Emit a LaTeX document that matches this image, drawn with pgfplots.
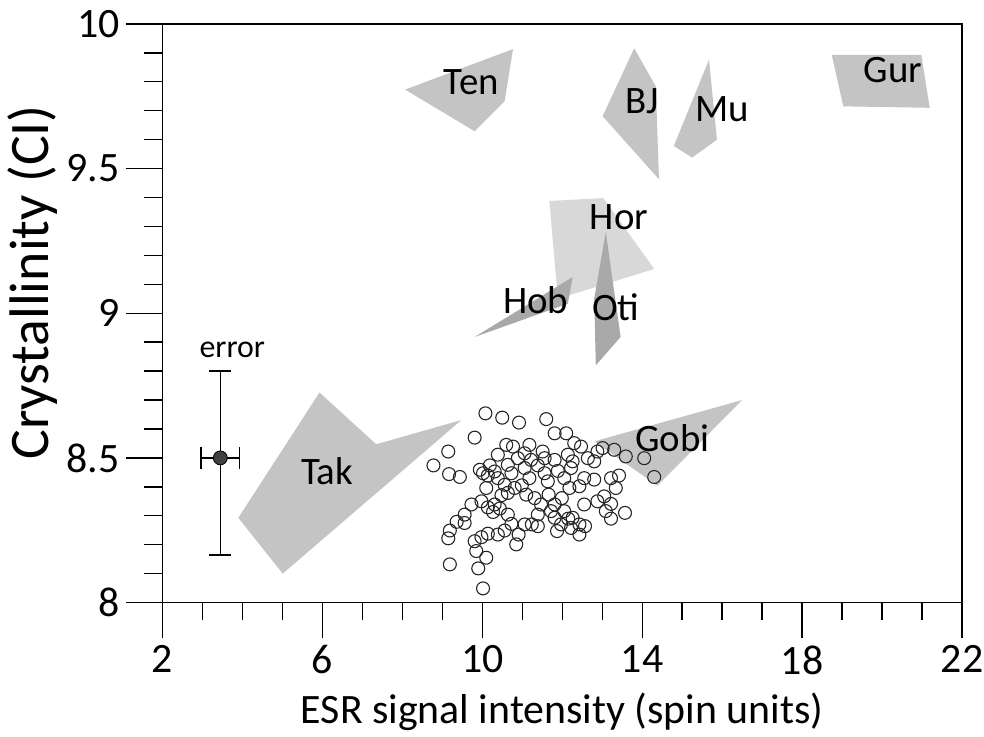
\documentclass[border=0pt]{standalone}
\usepackage{pgfplots}
\pgfplotsset{compat=1.18}
\usepackage{fontspec}
\setmainfont{Carlito}
\definecolor{midgray}{HTML}{C4C4C4}
\definecolor{lightgray2}{HTML}{D8D8D8}
\definecolor{darkgray2}{HTML}{A9A9A9}
\begin{document}
\begin{tikzpicture}
\begin{axis}[
  scale only axis, width=401.5pt, height=290.5pt,
  xmin=2, xmax=22, ymin=8, ymax=10,
  xtick={2,6,10,14,18,22}, minor x tick num=3,
  ytick={8,8.5,9,9.5,10}, minor y tick num=4,
  tick align=outside, tick pos=left,
  major tick length=18pt, minor tick length=9pt,
  axis line style={line width=0.7pt},
  every tick/.style={black, line width=0.7pt},
  /pgf/number format/assume math mode=true,
  ticklabel style={font=\fontsize{21}{24}\selectfont},
  xlabel={ESR signal intensity (spin units)},
  ylabel={Crystallinity (CI)},
  xlabel style={font=\fontsize{21}{24}\selectfont, at={(axis description cs:0.5,0)}, anchor=center, yshift=-55pt},
  ylabel style={font=\fontsize{28}{32}\selectfont, at={(axis description cs:0,0.5)}, anchor=center, rotate=0, xshift=15.5pt, yshift=65pt},
  clip=false,
]
% polygons
\addplot[fill=midgray, draw=none] coordinates {(8.07,9.773) (10.77,9.913) (10.56,9.733) (9.81,9.629)} -- cycle;
\addplot[fill=midgray, draw=none] coordinates {(13.80,9.916) (14.34,9.784) (14.42,9.463) (13.01,9.681)} -- cycle;
\addplot[fill=midgray, draw=none] coordinates {(15.67,9.876) (15.87,9.600) (15.25,9.538) (14.79,9.578)} -- cycle;
\addplot[fill=midgray, draw=none] coordinates {(18.74,9.893) (20.98,9.893) (21.19,9.710) (19.03,9.715)} -- cycle;
\addplot[fill=lightgray2, draw=none] coordinates {(11.68,9.388) (13.03,9.398) (14.30,9.153) (11.89,9.050)} -- cycle;
\addplot[fill=darkgray2, draw=none] coordinates {(9.81,8.918) (12.26,9.125) (12.14,9.033)} -- cycle;
\addplot[fill=darkgray2, draw=none] coordinates {(13.09,9.280) (13.46,8.918) (12.84,8.820) (12.80,9.050)} -- cycle;
\addplot[fill=midgray, draw=none] coordinates {(5.93,8.726) (7.35,8.547) (9.48,8.631) (5.01,8.100) (3.90,8.293)} -- cycle;
\addplot[fill=midgray, draw=none] coordinates {(16.50,8.700) (12.80,8.557) (14.38,8.404)} -- cycle;
% scatter
\addplot[only marks, mark=o, mark size=3.25pt, mark options={draw=black!85, line width=0.55pt}] coordinates {
(10.08,8.654) (10.50,8.639) (10.92,8.622) (11.60,8.634) (11.81,8.585) (12.10,8.585)
(9.81,8.570) (9.15,8.522) (8.78,8.474) (9.17,8.444) (9.44,8.434) (10.02,8.447)
(10.14,8.439) (10.31,8.453) (10.39,8.511) (10.60,8.545) (10.77,8.539) (11.06,8.516)
(11.22,8.493) (11.51,8.522) (11.81,8.493) (12.14,8.511) (12.26,8.488) (12.47,8.539)
(12.64,8.499) (13.01,8.534) (13.30,8.528) (13.59,8.505) (14.05,8.499) (14.30,8.434)
(12.80,8.425) (13.22,8.430) (13.42,8.439) (13.34,8.396) (13.05,8.367) (13.22,8.341)
(13.57,8.310) (13.09,8.316) (13.22,8.290) (12.43,8.402) (12.55,8.430) (10.64,8.476)
(10.89,8.499) (10.73,8.447) (11.06,8.465) (11.39,8.474) (11.56,8.447) (11.89,8.455)
(12.05,8.430) (12.22,8.465) (10.81,8.396) (10.99,8.405) (10.64,8.379) (10.48,8.371)
(10.31,8.339) (10.14,8.329) (10.27,8.313) (10.44,8.325) (9.73,8.339) (11.31,8.361)
(11.47,8.339) (11.66,8.373) (11.81,8.339) (11.99,8.361) (11.39,8.304) (11.72,8.316)
(12.05,8.316) (12.15,8.290) (11.97,8.270) (11.87,8.247) (12.22,8.258) (12.43,8.270)
(12.57,8.264) (12.43,8.235) (9.36,8.279) (9.56,8.275) (9.19,8.249) (9.15,8.222)
(9.81,8.212) (9.98,8.226) (10.14,8.238) (10.39,8.235) (10.56,8.249) (10.73,8.272)
(11.06,8.270) (11.24,8.270) (10.91,8.235) (10.85,8.201) (9.85,8.178) (10.10,8.155)
(9.90,8.118) (9.19,8.132) (10.02,8.049) (9.94,8.459) (10.19,8.474) (10.39,8.430)
(10.56,8.407) (10.10,8.396) (9.98,8.350) (11.18,8.430) (11.64,8.419) (12.18,8.396)
(12.80,8.488) (12.30,8.551) (11.56,8.499) (11.18,8.545) (12.55,8.339) (12.88,8.350)
(11.81,8.293) (11.39,8.264) (10.64,8.304) (9.56,8.304) (12.26,8.293) (12.88,8.522)
(11.10,8.373)
};
% error point
\addplot[only marks, mark=*, mark size=3.5pt, mark options={draw=black, fill=black!75},
  error bars/.cd, x dir=both, x explicit, y dir=both, y explicit,
  error bar style={line width=0.7pt, black},
  error mark options={rotate=90, line width=0.7pt, mark size=5.5pt, black}]
  coordinates {(3.45,8.5) += (0.48,0.3) -= (0.48,0.336)};
% labels
\begin{scope}[every node/.style={font=\fontsize{19.5}{22}\selectfont}]
\node at (axis cs:9.73,9.80) {Ten};
\node at (axis cs:14.0,9.733) {BJ};
\node at (axis cs:16.0,9.704) {Mu};
\node at (axis cs:20.27,9.842) {Gur};
\node at (axis cs:13.42,9.331) {Hor};
\node at (axis cs:11.34,9.046) {Hob};
\node at (axis cs:13.34,9.021) {Oti};
\node at (axis cs:6.12,8.453) {Tak};
\node at (axis cs:14.75,8.568) {Gobi};
\end{scope}
\node[font=\fontsize{16}{19}\selectfont] at (axis cs:3.75,8.875) {error};
\coordinate (sw) at (rel axis cs:0,0);
\coordinate (ne) at (rel axis cs:1,1);
\end{axis}
\pgfresetboundingbox
\path[use as bounding box] ([xshift=-81.5pt,yshift=-67pt]sw) rectangle ([xshift=11pt,yshift=12pt]ne);
\end{tikzpicture}
\end{document}
